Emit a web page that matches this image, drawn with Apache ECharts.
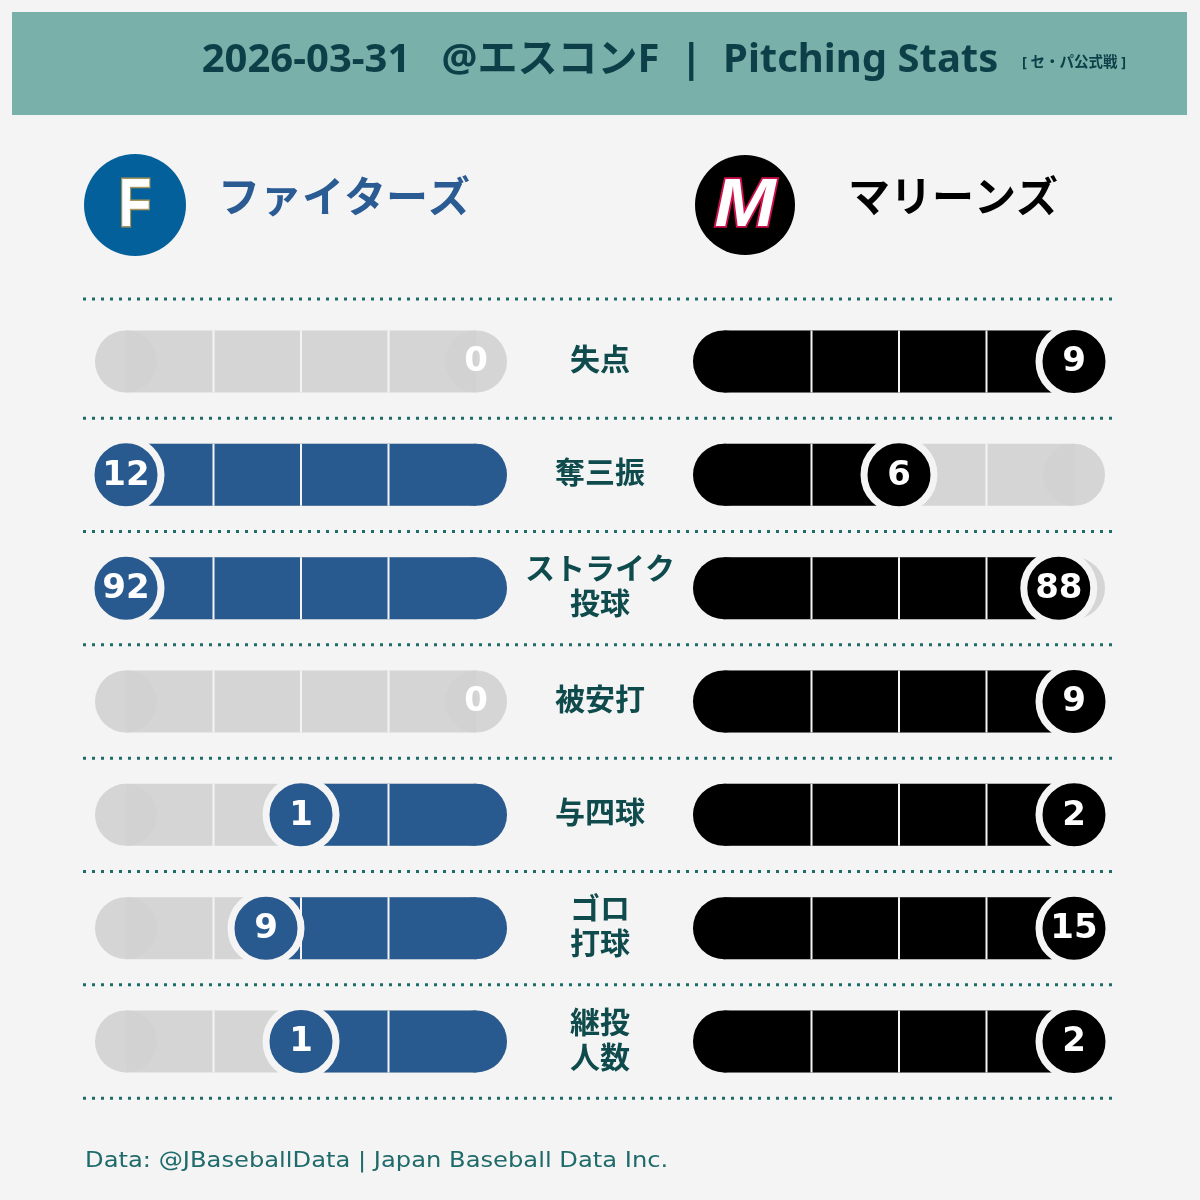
<!DOCTYPE html>
<html>
<head>
<meta charset="utf-8">
<script src="https://cdn.jsdelivr.net/npm/echarts@6/dist/echarts.min.js"></script>
<style>
html,body{margin:0;padding:0;background:#f4f4f4;}
#main{width:1200px;height:1200px;}
</style>
</head>
<body>
<div id="main"></div>
<script>
// ---- data ----
const categories = ['失点', '奪三振', 'ストライク\n投球', '被安打', '与四球', 'ゴロ\n打球', '継投\n人数'];
const fightersValues = [0, 12, 92, 0, 1, 9, 1];
const marinesValues = [9, 6, 88, 9, 2, 15, 2];
const teamNames = ['ファイターズ', 'マリーンズ'];
const titleText = '2026-03-31   @エスコンF  |  Pitching Stats';
const subTitleText = '[ セ・パ公式戦 ]';
const footerText = 'Data: @JBaseballData | Japan Baseball Data Inc.';

// ---- style ----
const BG = '#f4f4f4';
const FIGHTERS = '#285a8f';
const MARINES = '#000000';
const TEAL_DARK = '#0c3f47';
const LABEL_COLOR = '#0f4a4c';
const CJK = '"Noto Sans", "Noto Sans CJK JP", sans-serif';

const rowTop0 = 330.5, rowStep = 113.33, rowH = 62;
const leftX = 126, rightX = 724, sideW = 350;

const rowMax = categories.map((c, i) => Math.max(fightersValues[i], marinesValues[i]));

function makeRender(color) {
  return function (params, api) {
    const v = api.value(0), y = api.value(1), m = api.value(2);
    const c0 = api.coord([0, y]), cm = api.coord([m, y]), cv = api.coord([v, y]);
    const h = api.size([0, 1])[1];
    const r = h / 2;
    const cy = c0[1];
    const ch = [];
    ch.push({type: 'rect', shape: {x: Math.min(c0[0], cm[0]), y: cy - r, width: Math.abs(cm[0] - c0[0]), height: h}, style: {fill: '#d5d5d5'}});
    ch.push({type: 'circle', shape: {cx: cm[0], cy: cy, r: r}, style: {fill: 'rgba(209,209,209,0.9)'}});
    ch.push({type: 'circle', shape: {cx: c0[0], cy: cy, r: r}, style: {fill: 'rgba(209,209,209,0.9)'}});
    if (v > 0) {
      ch.push({type: 'rect', shape: {x: Math.min(c0[0], cv[0]), y: cy - r, width: Math.abs(cv[0] - c0[0]), height: h}, style: {fill: color}});
      ch.push({type: 'circle', shape: {cx: c0[0], cy: cy, r: r}, style: {fill: color}});
    }
    for (let k = 1; k <= 3; k++) {
      const p = api.coord([m * k / 4, y]);
      ch.push({type: 'line', shape: {x1: p[0], y1: cy - r, x2: p[0], y2: cy + r}, style: {stroke: BG, lineWidth: 2}});
    }
    if (v > 0) {
      ch.push({type: 'circle', shape: {cx: cv[0], cy: cy, r: 35}, style: {fill: color, stroke: BG, lineWidth: 7}});
    }
    ch.push({type: 'text', x: cv[0], y: cy + 1, style: {text: String(v), fill: '#ffffff', font: 'bold 34px "DejaVu Sans", sans-serif', align: 'center', verticalAlign: 'middle'}});
    return {type: 'group', children: ch};
  };
}

const grids = [], xAxes = [], yAxes = [], series = [];
categories.forEach((cat, i) => {
  const top = rowTop0 + i * rowStep;
  grids.push({left: leftX, top: top, width: sideW, height: rowH});
  grids.push({left: rightX, top: top, width: sideW, height: rowH});
  const gl = 2 * i, gr = 2 * i + 1;
  xAxes.push({type: 'value', gridIndex: gl, min: 0, max: rowMax[i], inverse: true, show: false});
  xAxes.push({type: 'value', gridIndex: gr, min: 0, max: rowMax[i], show: false});
  yAxes.push({
    type: 'category', gridIndex: gl, data: [cat], position: 'right',
    axisLine: {show: false, onZero: false}, axisTick: {show: false}, splitLine: {show: false},
    axisLabel: {margin: 124, align: 'center', fontSize: 30, fontWeight: 'bold', lineHeight: 35, color: LABEL_COLOR, fontFamily: CJK}
  });
  yAxes.push({type: 'category', gridIndex: gr, data: [cat], show: false});
  series.push({type: 'custom', xAxisIndex: gl, yAxisIndex: gl, renderItem: makeRender(FIGHTERS), data: [[fightersValues[i], 0, rowMax[i]]], silent: true, animation: false});
  series.push({type: 'custom', xAxisIndex: gr, yAxisIndex: gr, renderItem: makeRender(MARINES), data: [[marinesValues[i], 0, rowMax[i]]], silent: true, animation: false});
});

const sepY = [299];
for (let i = 0; i < categories.length; i++) sepY.push(rowTop0 + rowH / 2 + i * rowStep + rowStep / 2);
const graphics = [
  {type: 'rect', shape: {x: 12, y: 12, width: 1175, height: 103}, style: {fill: '#79b0aa'}, z: 0},
  {type: 'text', x: 600, y: 61, style: {text: titleText, fill: TEAL_DARK, font: 'bold 40px ' + CJK, align: 'center', verticalAlign: 'middle'}},
  {type: 'text', x: 1022, y: 63, style: {text: subTitleText, fill: TEAL_DARK, font: 'bold 14.5px ' + CJK, align: 'left', verticalAlign: 'middle'}},
  {type: 'circle', shape: {cx: 135, cy: 205, r: 51}, style: {fill: '#03609a'}},
  {type: 'text', x: 135, y: 207, scaleX: 0.78, style: {text: 'F', fill: '#ffffff', stroke: '#a8955a', lineWidth: 3, font: 'bold 68px "Liberation Sans", sans-serif', align: 'center', verticalAlign: 'middle'}},
  {type: 'circle', shape: {cx: 745, cy: 205, r: 50}, style: {fill: '#000000'}},
  {type: 'text', x: 745, y: 207, scaleX: 1.08, style: {text: 'M', fill: '#ffffff', stroke: '#d0104c', lineWidth: 3.5, font: 'italic bold 68px "Liberation Sans", sans-serif', align: 'center', verticalAlign: 'middle'}},
  {type: 'text', x: 218, y: 200, style: {text: teamNames[0], fill: '#2a5b93', font: 'bold 42px ' + CJK, align: 'left', verticalAlign: 'middle'}},
  {type: 'text', x: 848, y: 200, style: {text: teamNames[1], fill: '#000000', font: 'bold 42px ' + CJK, align: 'left', verticalAlign: 'middle'}},
  {type: 'text', x: 85, y: 1161, scaleX: 1.1, style: {text: footerText, fill: '#1f6a6a', font: '22px "DejaVu Sans", sans-serif', align: 'left', verticalAlign: 'middle'}}
];
sepY.forEach(y => {
  graphics.push({type: 'line', shape: {x1: 83, y1: y, x2: 1113, y2: y}, style: {stroke: '#1d6c69', lineWidth: 3, lineDash: [3, 6]}});
});

const chart = echarts.init(document.getElementById('main'), null, {renderer: 'canvas'});
chart.setOption({
  backgroundColor: BG,
  animation: false,
  grid: grids,
  xAxis: xAxes,
  yAxis: yAxes,
  series: series,
  graphic: graphics
});
</script>
</body>
</html>
